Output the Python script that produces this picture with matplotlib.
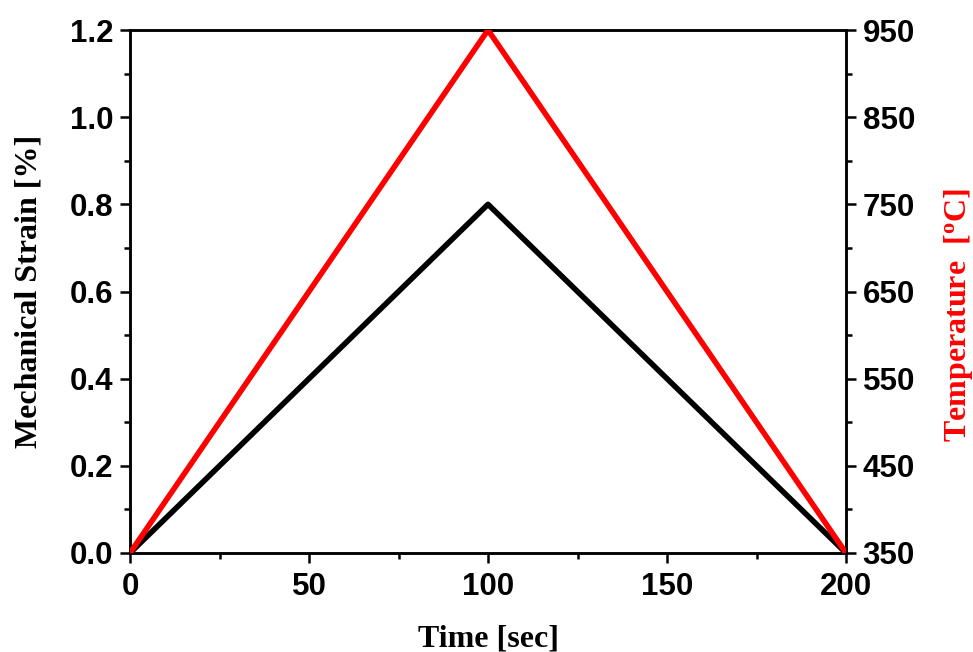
import matplotlib
matplotlib.use("Agg")
import matplotlib.pyplot as plt
from matplotlib.ticker import MultipleLocator

# Cycle data
time_sec = [0, 100, 200]
strain_pct = [0.0, 0.8, 0.0]
temperature_c = [350, 950, 350]

x_ticks = [0, 50, 100, 150, 200]
strain_ticks = [0.0, 0.2, 0.4, 0.6, 0.8, 1.0, 1.2]
temp_ticks = [350, 450, 550, 650, 750, 850, 950]

plt.rcParams["mathtext.fontset"] = "custom"
plt.rcParams["mathtext.rm"] = "Liberation Serif:bold"
plt.rcParams["mathtext.bf"] = "Liberation Serif:bold"
plt.rcParams["mathtext.it"] = "Liberation Serif:bold"

tick_font = {"family": "Liberation Sans", "weight": "bold", "size": 22.5}
label_font = {"family": "Liberation Serif", "weight": "bold", "size": 23}

fig = plt.figure(figsize=(9.73, 6.52), dpi=100)
ax = fig.add_axes([130 / 973, 1 - 553 / 652, (846 - 130) / 973, (553 - 30) / 652])
ax2 = ax.twinx()

ax.plot(time_sec, strain_pct, color="black", lw=4, solid_capstyle="butt", zorder=3)
ax2.plot(time_sec, temperature_c, color="red", lw=4, solid_capstyle="butt", zorder=3)

ax.set_xlim(0, 200)
ax.set_ylim(0, 1.2)
ax2.set_ylim(350, 950)

ax.set_xticks(x_ticks)
ax.set_yticks(strain_ticks)
ax2.set_yticks(temp_ticks)
ax.xaxis.set_minor_locator(MultipleLocator(25))
ax.yaxis.set_minor_locator(MultipleLocator(0.1))
ax2.yaxis.set_minor_locator(MultipleLocator(50))

ax.set_xticklabels([f"{v:d}" for v in x_ticks], fontdict=tick_font)
ax.set_yticklabels([f"{v:.1f}" for v in strain_ticks], fontdict=tick_font)
ax2.set_yticklabels([f"{v:d}" for v in temp_ticks], fontdict=tick_font)

for a in (ax, ax2):
    for s in a.spines.values():
        s.set_linewidth(1.8)
    a.tick_params(which="major", direction="out", length=7, width=1.8, pad=5)
    a.tick_params(which="minor", direction="out", length=4, width=1.8)
ax.tick_params(axis="y", which="both", right=False)
ax.tick_params(axis="x", which="both", top=False)
ax.tick_params(axis="x", which="major", pad=7)

ax.set_xlabel("Time [sec]", fontdict=label_font, labelpad=16)
ax.set_ylabel("Mechanical Strain [%]", fontdict=label_font, labelpad=19)
ax2.set_ylabel("Temperature  [$\\mathregular{^o}$C]", fontdict=label_font, color="red")
ax2.yaxis.set_label_coords(1.134, 0.455)

fig.savefig("out.png", dpi=100)
